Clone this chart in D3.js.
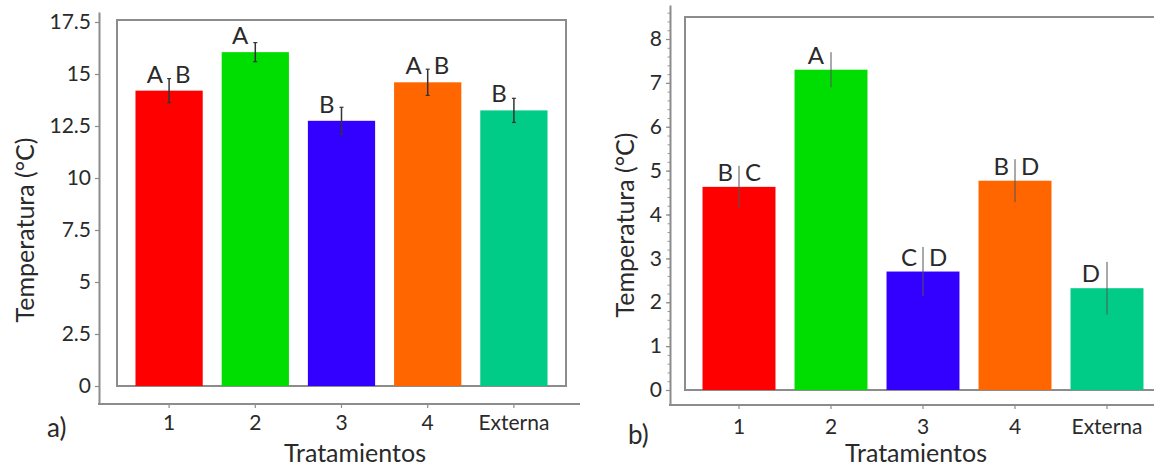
<!DOCTYPE html>
<html>
<head>
<meta charset="utf-8">
<script src="https://cdn.jsdelivr.net/npm/d3@7"></script>
<style>
body { margin: 0; background: #fff; }
text { font-family: Lato, "Open Sans", sans-serif; fill: #2a2a2a; }
</style>
</head>
<body>
<svg id="chart" width="1154" height="469"></svg>
<script>
// treatment names and colours shared by both panels
var categories = ['1', '2', '3', '4', 'Externa'];
var barColors = ['#ff0000', '#00dd00', '#3300ff', '#ff6600', '#00cc88'];

// panel a
var meansA = [14.2, 16.05, 12.75, 14.6, 13.25];
var errorsA = [0.58, 0.46, 0.65, 0.63, 0.58];
var lettersA = ['A B', 'A', 'B', 'A B', 'B'];
var ticksA = [0, 2.5, 5, 7.5, 10, 12.5, 15, 17.5];

// panel b
var meansB = [4.63, 7.3, 2.7, 4.77, 2.32];
var errorsB = [0.48, 0.4, 0.56, 0.49, 0.6];
var lettersB = ['B C', 'A', 'C D', 'B D', 'D'];
var ticksB = [0, 1, 2, 3, 4, 5, 6, 7, 8];

var svg = d3.select('#chart');
svg.append('rect').attr('width', 1154).attr('height', 469).attr('fill', '#fff');

function drawPanel(p) {
    var g = svg.append('g');
    var y = d3.scaleLinear().domain([0, p.ticks[p.ticks.length - 1]]).range([p.y0, p.yTop]);
    var x = d3.scaleBand().domain(categories).range(p.xRange)
        .paddingInner(p.pad).paddingOuter(p.pad / 2);
    var yOuter = d3.scaleLinear()
        .domain([y.invert(p.axisY), y.invert(p.axisTop)])
        .range([p.axisY, p.axisTop]);

    // outer y axis
    if (p.minor) {
        g.append('g')
            .attr('transform', 'translate(' + p.axisX + ',0)')
            .call(d3.axisLeft(yOuter).tickValues(d3.range(0, yOuter.domain()[1], 0.2))
                .tickSize(2.5).tickSizeOuter(0).tickFormat(''))
            .call(function (a) { a.select('.domain').remove(); })
            .selectAll('line').attr('stroke', '#999');
    }
    var ya = g.append('g')
        .attr('transform', 'translate(' + p.axisX + ',0)')
        .call(d3.axisLeft(yOuter).tickValues(p.ticks).tickSize(4).tickSizeOuter(0)
            .tickPadding(p.yPad).tickFormat(function (d) { return String(d); }));
    ya.select('.domain').attr('stroke', '#8c8c8c').attr('stroke-width', 2);
    ya.selectAll('.tick line').attr('stroke', '#8c8c8c').attr('stroke-width', 1.2);
    ya.selectAll('.tick text').attr('font-size', p.tickFont).attr('font-family', null).attr('fill', null);

    // outer x axis
    var xa = g.append('g')
        .attr('transform', 'translate(0,' + p.axisY + ')')
        .call(d3.axisBottom(x).tickSize(4).tickPadding(p.xPad));
    xa.select('.domain').remove();
    xa.selectAll('.tick line').attr('stroke', '#8c8c8c').attr('stroke-width', 1.2);
    xa.selectAll('.tick text').attr('font-size', p.tickFont).attr('font-family', null).attr('fill', null);
    g.append('line')
        .attr('x1', p.axisX - 1).attr('x2', p.axisEnd)
        .attr('y1', p.axisY).attr('y2', p.axisY)
        .attr('stroke', '#8c8c8c').attr('stroke-width', 2);

    // inner box
    g.append('rect')
        .attr('x', p.boxL).attr('y', p.boxTop)
        .attr('width', p.boxR - p.boxL).attr('height', y(0) - p.boxTop)
        .attr('fill', 'none').attr('stroke', '#8c8c8c').attr('stroke-width', 2);

    // bars
    g.selectAll('.bar').data(p.means).enter().append('rect')
        .attr('x', function (d, i) { return x(categories[i]); })
        .attr('y', function (d) { return y(d); })
        .attr('width', x.bandwidth())
        .attr('height', function (d) { return y(0) - y(d); })
        .attr('fill', function (d, i) { return barColors[i]; });

    // error bars
    var cx = function (i) { return x(categories[i]) + x.bandwidth() / 2; };
    g.selectAll('.err').data(p.means).enter().append('line')
        .attr('x1', function (d, i) { return cx(i); })
        .attr('x2', function (d, i) { return cx(i); })
        .attr('y1', function (d, i) { return y(d + p.errors[i]); })
        .attr('y2', function (d, i) { return y(d - p.errors[i]); })
        .attr('stroke', p.errColor).attr('stroke-width', p.errWidth);
    if (p.caps) {
        p.means.forEach(function (d, i) {
            [d + p.errors[i], d - p.errors[i]].forEach(function (v) {
                g.append('line')
                    .attr('x1', cx(i) - 2).attr('x2', cx(i) + 2)
                    .attr('y1', y(v)).attr('y2', y(v))
                    .attr('stroke', p.errColor).attr('stroke-width', 1.2);
            });
        });
    }

    // significance letters
    p.letters.forEach(function (s, i) {
        var parts = s.split(' ');
        var by = y(p.means[i]) - p.letterLift;
        if (parts.length === 2) {
            g.append('text').attr('x', cx(i) - 6).attr('y', by)
                .attr('text-anchor', 'end').attr('font-size', p.letterFont).text(parts[0]);
            g.append('text').attr('x', cx(i) + 6).attr('y', by)
                .attr('text-anchor', 'start').attr('font-size', p.letterFont).text(parts[1]);
        } else {
            g.append('text').attr('x', cx(i) - 7).attr('y', by)
                .attr('text-anchor', 'end').attr('font-size', p.letterFont).text(parts[0]);
        }
    });

    // titles
    g.append('text')
        .attr('transform', 'translate(' + p.yTitle[0] + ',' + p.yTitle[1] + ') rotate(-90)')
        .attr('text-anchor', 'middle').attr('dy', '0.35em')
        .attr('font-size', 25).text('Temperatura (°C)');
    g.append('text')
        .attr('x', p.xTitle[0]).attr('y', p.xTitle[1])
        .attr('text-anchor', 'middle')
        .attr('font-size', 25).text('Tratamientos');
    g.append('text')
        .attr('x', p.tag[0]).attr('y', p.tag[1])
        .attr('font-size', 26).text(p.tagText);
}

drawPanel({
    means: meansA, errors: errorsA, letters: lettersA, ticks: ticksA,
    y0: 386, yTop: 22, xRange: [126, 557], pad: 0.22,
    axisX: 99, axisY: 404, axisTop: 12, axisEnd: 580,
    boxL: 117, boxR: 566, boxTop: 20,
    tickFont: 21, yPad: 4, xPad: 7, minor: false,
    errColor: '#333', errWidth: 1.5, caps: true,
    letterFont: 24, letterLift: 8,
    yTitle: [25, 230], xTitle: [355, 462], tag: [47, 437], tagText: 'a)'
});

drawPanel({
    means: meansB, errors: errorsB, letters: lettersB, ticks: ticksB,
    y0: 390, yTop: 39, xRange: [693, 1153], pad: 0.207,
    axisX: 670, axisY: 405, axisTop: 5, axisEnd: 1154,
    boxL: 685, boxR: 1165, boxTop: 17,
    tickFont: 21, yPad: 4, xPad: 10, minor: true,
    errColor: '#555', errWidth: 1, caps: false,
    letterFont: 24, letterLift: 6,
    yTitle: [625, 225], xTitle: [916, 462], tag: [628, 444], tagText: 'b)'
});
</script>
</body>
</html>
